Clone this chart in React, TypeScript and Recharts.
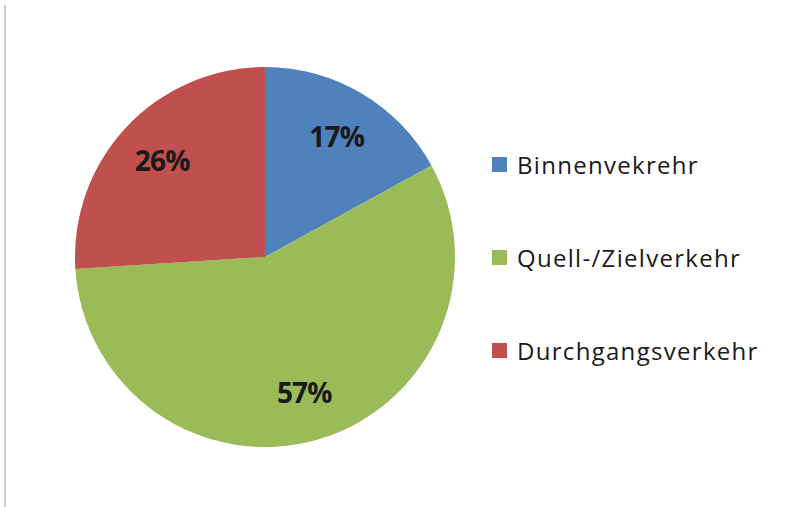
import { PieChart, Pie, Cell, Legend } from 'recharts';

const categories = ['Binnenvekrehr', 'Quell-/Zielverkehr', 'Durchgangsverkehr'];
const shares = [17, 57, 26];
const colors = ['#4F81BD', '#9BBB59', '#C0504D'];

const data = categories.map((name, i) => ({ name, value: shares[i] }));

const RADIAN = Math.PI / 180;

const renderLabel = (props: any) => {
  const { cx, cy, midAngle, value } = props;
  const r = 141;
  const x = cx + r * Math.cos(-midAngle * RADIAN);
  const y = cy + r * Math.sin(-midAngle * RADIAN);
  return (
    <text
      x={x}
      y={y}
      textAnchor="middle"
      dominantBaseline="central"
      fill="#1a1a1a"
      fontFamily="'Open Sans', sans-serif"
      fontWeight="bold"
      fontSize={28}
      letterSpacing={-0.8}
    >
      {`${value}%`}
    </text>
  );
};

const renderLegend = () => (
  <div style={{ fontFamily: "'Open Sans', sans-serif" }}>
    {categories.map((c, i) => (
      <div key={c} style={{ height: 93, display: 'flex', alignItems: 'center' }}>
        <span style={{ width: 15, height: 15, background: colors[i], display: 'inline-block', marginRight: 10 }} />
        <span style={{ fontSize: 24, letterSpacing: 1.3, color: '#1a1a1a' }}>{c}</span>
      </div>
    ))}
  </div>
);

export default function App() {
  return (
    <div style={{ position: 'fixed', left: 0, top: 0, width: 797, height: 507, background: '#fff' }}>
      <div style={{ position: 'absolute', left: 4, top: 5, width: 2, height: 502, background: '#cfcfcf' }} />
      <PieChart width={797} height={507} margin={{ top: 0, right: 0, bottom: 0, left: 0 }}>
        <Pie
          data={data}
          dataKey="value"
          nameKey="name"
          cx={265}
          cy={257}
          outerRadius={190}
          startAngle={90}
          endAngle={-270}
          stroke="none"
          label={renderLabel}
          labelLine={false}
          isAnimationActive={false}
        >
          {data.map((d, i) => (
            <Cell key={d.name} fill={colors[i]} />
          ))}
        </Pie>
        <Legend
          layout="vertical"
          align="right"
          verticalAlign="top"
          content={renderLegend}
          wrapperStyle={{ left: 492, top: 118, width: 300 }}
        />
      </PieChart>
    </div>
  );
}
